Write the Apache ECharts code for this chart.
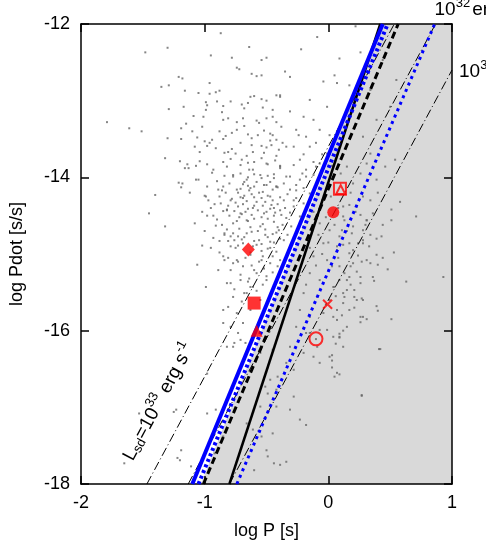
<!DOCTYPE html>
<html>
<head>
<meta charset="utf-8">
<script src="https://cdn.jsdelivr.net/npm/echarts@6/dist/echarts.min.js"></script>
<style>
html, body { margin: 0; padding: 0; background: #fff; }
#chart { width: 486px; height: 545px; }
</style>
</head>
<body>
<div id="chart"></div>
<script>
// log P [s], log Pdot [s/s]
const pulsarDots = [
  [-0.87,-12.12],[-0.64,-12.30],[-1.30,-12.31],[-1.48,-12.37],[-0.95,-12.41],[-0.78,-12.44],[-0.54,-12.47],[-0.50,-12.44],
  [-0.74,-12.57],[-0.72,-12.59],[-0.62,-12.65],[-0.58,-12.68],[-0.54,-12.67],[-1.21,-12.69],[-1.18,-12.71],[-0.96,-12.77],
  [-1.29,-12.80],[-1.35,-12.82],[-1.16,-12.87],[-1.05,-12.90],[-0.96,-12.91],[-0.91,-12.89],[-0.88,-12.87],[-0.42,-12.93],
  [-0.63,-12.95],[-0.60,-12.94],[-0.54,-12.98],[-0.50,-13.00],[-0.99,-13.02],[-0.98,-13.06],[-0.90,-13.01],[-0.85,-13.07],
  [-0.79,-13.01],[-0.65,-13.03],[-1.29,-13.11],[-1.17,-13.08],[-0.99,-13.12],[-0.68,-13.10],[-0.53,-13.09],[-0.39,-12.95],
  [-1.09,-13.20],[-1.01,-13.21],[-0.85,-13.25],[-0.81,-13.23],[-0.74,-13.28],[-0.69,-13.23],[-0.58,-13.26],[-0.56,-13.29],
  [-0.50,-13.23],[-0.42,-13.28],[-1.79,-13.28],[-1.61,-13.36],[-1.51,-13.40],[-1.19,-13.36],[-1.15,-13.30],[-1.10,-13.40],
  [-1.02,-13.34],[-0.83,-13.46],[-0.78,-13.42],[-0.68,-13.33],[-0.65,-13.44],[-0.62,-13.49],[-0.52,-13.39],[-0.47,-13.43],
  [-0.45,-13.45],[-1.30,-13.49],[-1.19,-13.50],[-1.06,-13.48],[-1.00,-13.53],[-0.96,-13.55],[-0.94,-13.51],[-0.85,-13.50],
  [-1.08,-13.60],[-0.98,-13.59],[-0.84,-13.68],[-0.81,-13.67],[-0.78,-13.63],[-0.75,-13.69],[-0.71,-13.55],[-0.61,-13.67],
  [-0.54,-13.59],[-0.50,-13.61],[-0.46,-13.58],[-0.42,-13.72],[-0.40,-13.64],[-1.04,-13.67],[-1.32,-13.75],[-1.20,-13.79],
  [-1.14,-13.83],[-1.16,-13.88],[-1.13,-13.88],[-1.07,-13.85],[-1.04,-13.79],[-0.98,-13.83],[-0.93,-13.90],[-0.85,-13.80],
  [-0.79,-13.76],[-0.70,-13.77],[-0.65,-13.81],[-0.60,-13.80],[-0.54,-13.75],[-0.49,-13.83],[-0.43,-13.78],[-0.39,-13.85],
  [-0.64,-13.90],[-0.94,-13.94],[-0.77,-13.97],[-0.71,-13.95],[-0.65,-14.00],[-0.60,-13.96],[-0.54,-14.01],[-0.49,-13.98],
  [-0.44,-13.96],[-1.07,-14.03],[-1.05,-14.03],[-1.21,-14.07],[-1.18,-14.08],[-1.19,-14.13],[-0.68,-14.06],[-0.65,-14.11],
  [-0.71,-14.15],[-0.64,-14.17],[-0.60,-14.12],[-0.50,-14.10],[-0.45,-14.16],[-0.41,-14.13],[-0.89,-14.16],[-0.86,-14.17],
  [-1.00,-14.24],[-0.99,-14.25],[-1.40,-14.23],[-0.73,-14.20],[-0.71,-14.26],[-0.68,-14.24],[-0.60,-14.26],[-0.54,-14.27],
  [-0.49,-14.24],[-0.45,-14.30],[-0.41,-14.35],[-0.92,-14.35],[-0.87,-14.34],[-0.81,-14.37],[-0.82,-14.42],[-0.85,-14.44],
  [-0.73,-14.38],[-0.69,-14.35],[-0.65,-14.41],[-0.60,-14.37],[-0.53,-14.37],[-0.44,-14.40],[-1.45,-14.47],[-0.98,-14.50],
  [-0.93,-14.50],[-0.70,-14.48],[-0.74,-14.57],[-0.65,-14.57],[-0.60,-14.54],[-0.54,-14.52],[-0.49,-14.54],[-0.44,-14.50],
  [-1.32,-14.64],[-0.91,-14.63],[-0.82,-14.68],[-0.84,-14.75],[-0.77,-14.73],[-0.72,-14.67],[-0.68,-14.78],[-0.63,-14.65],
  [-0.57,-14.70],[-0.53,-14.61],[-0.49,-14.78],[-0.45,-14.74],[-0.41,-14.65],[-0.93,-14.79],[-0.81,-14.83],[-0.76,-14.82],
  [-1.02,-14.89],[-0.95,-14.92],[-0.88,-14.98],[-0.73,-14.89],[-0.60,-14.83],[-0.54,-14.87],[-0.49,-14.93],[-0.44,-14.85],
  [-0.39,-14.80],[-0.63,-14.98],[-0.54,-14.96],
  [-0.82,-13.86],[-0.71,-13.84],[-0.61,-13.90],[-0.50,-13.82],[-0.39,-13.88],[-0.28,-13.84],[-0.18,-13.90],[-0.07,-13.82],
  [-0.77,-13.99],[-0.66,-14.03],[-0.55,-13.97],[-0.44,-14.01],[-0.34,-13.99],[-0.23,-14.03],[-0.12,-13.97],[-0.85,-14.12],
  [-0.74,-14.16],[-0.63,-14.14],[-0.53,-14.19],[-0.42,-14.12],[-0.31,-14.16],[-0.20,-14.14],[-0.79,-14.30],[-0.69,-14.27],
  [-0.58,-14.32],[-0.47,-14.25],[-0.36,-14.30],[-0.26,-14.27],[-0.15,-14.21],[-0.82,-14.43],[-0.71,-14.47],[-0.61,-14.40],
  [-0.50,-14.45],[-0.39,-14.43],[-0.28,-14.38],[-0.20,-14.34],[-0.77,-14.60],[-0.66,-14.56],[-0.55,-14.64],[-0.44,-14.58],
  [-0.34,-14.53],[-0.23,-14.51],[-0.84,-14.73],[-0.73,-14.77],[-0.62,-14.71],[-0.51,-14.75],[-0.40,-14.69],[-0.30,-14.64],
  [-0.79,-14.90],[-0.69,-14.86],[-0.58,-14.88],[-0.47,-14.84],[-0.36,-14.82],[-0.85,-15.03],[-0.74,-15.08],[-0.63,-15.01],
  [-0.53,-15.03],[-0.42,-14.97],[-0.79,-15.21],[-0.69,-15.16],[-0.58,-15.25],[-0.47,-15.12],[-0.82,-15.38],[-0.71,-15.34],
  [-0.61,-15.43],[-0.50,-15.29],[-0.77,-15.56],[-0.66,-15.51],[-0.55,-15.60],[-0.85,-15.73],[-0.74,-15.77],[-0.63,-15.73],
  [-0.79,-15.95],[-0.69,-15.90],[-0.82,-16.21],[-0.71,-16.12],
  [0.15,-13.86],[0.26,-13.95],[0.31,-13.82],[0.20,-14.08],[0.28,-14.25],[0.23,-14.38],[0.12,-14.51],[-0.07,-14.60],
  [0.01,-14.69],[0.09,-14.77],[0.20,-14.64],[0.31,-14.56],[-0.04,-14.86],[0.07,-14.95],[0.17,-14.86],[0.28,-14.82],
  [-0.12,-15.03],[-0.01,-15.08],[0.09,-15.16],[0.20,-15.12],[0.31,-15.08],[-0.15,-15.25],[-0.07,-15.34],[0.04,-15.43],
  [0.15,-15.34],[0.26,-15.38],[-0.20,-15.51],[-0.09,-15.56],[0.01,-15.60],[0.12,-15.51],[0.23,-15.60],[-0.23,-15.73],
  [-0.15,-15.82],[-0.04,-15.77],[0.07,-15.86],[0.17,-15.73],[0.28,-15.82],[-0.26,-15.95],[-0.18,-16.03],[-0.07,-15.99],
  [0.04,-16.08],[0.15,-15.95],[-0.31,-16.21],[-0.20,-16.29],[-0.09,-16.21],[0.01,-16.34],[0.12,-16.21],
  [0.71,-14.51],[0.51,-14.42],[0.58,-14.32],[0.44,-14.62],[0.43,-14.77],[0.51,-14.56],[0.53,-14.98],[0.39,-15.01],
  [0.44,-15.05],[0.40,-15.14],[0.48,-15.20],[0.36,-15.30],[0.37,-15.35],[0.63,-15.36],[0.93,-15.30],[0.28,-15.60],
  [0.39,-15.68],[0.40,-15.74],[0.21,-15.70],[0.51,-15.85],[0.31,-15.85],[0.26,-15.82],[0.26,-15.89],[0.11,-15.80],
  [0.12,-16.00],[0.09,-16.04],[0.09,-16.09],[0.06,-16.17],[0.41,-16.24],[0.03,-16.32],[0.03,-16.39],[0.03,-16.48],
  [0.09,-16.57],[0.05,-16.60],[0.27,-16.85],
  [0.12,-14.38],[0.17,-14.36],[0.26,-14.49],[0.31,-14.56],[0.36,-14.47],[0.28,-14.69],[0.34,-14.75],[0.24,-14.86],
  [0.17,-14.99],[0.27,-15.10],[0.34,-15.12],[0.23,-15.23],[0.17,-15.30],[0.26,-15.30],[0.15,-15.47],[0.21,-15.47],
  [0.12,-15.64],[0.07,-15.73],[0.04,-15.82],[0.05,-15.43],[0.09,-15.34],[0.03,-15.16],[0.07,-14.90],[0.11,-14.69],
  [0.13,-14.56],[0.19,-14.73],[0.28,-14.86],[0.33,-14.90],[0.39,-14.80],[0.18,-15.16],[0.21,-15.56],[0.27,-15.58],
  [0.13,-15.56],
  [-1.06,-15.14],[-0.99,-15.43],[-0.84,-15.08],[-0.89,-15.21],[-0.73,-15.10],[-0.71,-15.27],[-0.65,-15.36],[-0.60,-15.21],
  [-0.54,-15.08],[-0.50,-15.34],[-0.45,-15.03],[-0.41,-15.16],[-0.79,-15.38],[-0.68,-15.51],[-0.63,-15.43],[-0.85,-15.90],
  [-0.81,-15.69],[-0.73,-16.03],[-0.76,-16.16],[-0.98,-16.56],[-0.98,-17.08],[-0.91,-17.03],[-0.92,-17.60],[-0.85,-17.38],
  [-1.19,-17.56],[-1.11,-17.77],[-1.25,-17.06],[-1.22,-17.66],[-1.53,-17.08],[-1.65,-17.73],[-0.49,-16.82],[-0.41,-16.60],
  [-0.42,-16.99],[-0.45,-17.34],[-0.40,-16.73],[-0.54,-17.38],[-0.49,-17.64],[-0.44,-17.73],[-0.60,-17.82],
  [-0.77,-16.21],[-0.67,-16.16],[-0.55,-16.29],[-0.45,-16.25],[-0.34,-16.42],[-0.28,-16.51],[-0.12,-16.34],[-0.07,-16.42],
  [0.07,-16.55],[0.27,-16.84],[0.42,-16.24],[-0.47,-16.64],[-0.42,-16.77],[-0.28,-16.86],[-0.23,-17.16],[-0.18,-17.23],
  [-0.31,-17.03],[-0.55,-16.99],[-0.66,-17.21],[-0.51,-16.73],[-0.61,-17.29],[-0.50,-17.56],[-0.34,-17.71],[-0.39,-17.75],
  [-1.20,-17.69],[-1.23,-17.03],[-0.77,-16.90],[-0.15,-16.03],[-0.01,-15.99],[0.09,-16.08],[-0.10,-16.11],
  [-0.09,-12.17],[-0.22,-12.33],[0.26,-12.37],[0.22,-12.03],[0.09,-12.45],[0.05,-12.67],[0.17,-12.80],[-0.35,-12.62],
  [-0.31,-12.69],[-0.04,-12.75],[0.07,-12.77],[0.20,-12.95],[-0.39,-12.93],[-0.15,-12.99],[-0.01,-13.08],[-0.45,-13.21],
  [-0.31,-13.14],[-0.20,-13.21],[-0.12,-13.25],[-0.38,-13.34],[-0.26,-13.38],[-0.07,-13.38],[0.01,-13.45],[-0.42,-13.51],
  [-0.18,-13.47],[-0.34,-13.60],[-0.15,-13.60],[-0.01,-13.69],[-0.23,-13.77],[-0.10,-13.86],[-0.39,-13.86],[-0.31,-13.99],
  [-0.18,-13.99],[-0.42,-14.12],[-0.26,-14.17],
  [0.34,-12.86],[0.39,-13.25],[0.44,-12.47],[0.50,-13.08],[0.55,-12.73],[0.34,-13.69],[0.46,-13.86],[0.39,-14.03],
  [0.28,-13.47],[0.54,-13.77],
  [-0.90,-14.55],[-0.86,-14.62],[-0.80,-14.50],[-0.76,-14.44],[-0.72,-14.52],[-0.67,-14.45],[-0.62,-14.49],[-0.57,-14.43],
  [-0.52,-14.47],[-0.47,-14.41],[-0.43,-14.46],[-0.38,-14.49],[-0.35,-14.40],[-0.31,-14.46],[-0.88,-14.25],[-0.83,-14.20],
  [-0.78,-14.28],[-0.75,-14.33],[-0.66,-14.31],[-0.62,-14.22],[-0.56,-14.20],[-0.51,-14.32],[-0.46,-14.36],[-0.39,-14.26],
  [-0.33,-14.22],[-0.28,-14.30],[-0.90,-14.05],[-0.84,-13.98],[-0.80,-14.08],[-0.69,-14.09],[-0.58,-14.06],[-0.52,-14.10],
  [-0.47,-14.06],[-0.36,-14.08],[-0.26,-14.10],[-0.21,-13.95],[-0.88,-14.83],[-0.79,-14.77],[-0.75,-14.92],[-0.70,-14.81],
  [-0.66,-14.73],[-0.61,-14.90],[-0.56,-14.82],[-0.51,-14.68],[-0.47,-14.92],[-0.42,-14.72],[-0.37,-14.62],[-0.33,-14.75],
  [-0.81,-15.05],[-0.77,-15.12],[-0.67,-15.05],[-0.62,-15.15],[-0.56,-15.10],[-0.52,-15.19],[-0.45,-15.24],[-0.39,-15.08],
  [-0.76,-15.46],[-0.70,-15.62],[-0.64,-15.32],[-0.58,-15.48],[-0.53,-15.40],[-0.97,-14.30],[-1.02,-14.45],[-1.08,-14.60],
  [-1.00,-14.70],[-0.95,-14.40],[-1.12,-14.20],[-0.98,-14.12],[-0.88,-13.40],[-0.74,-13.38],[-0.62,-13.58],[-0.57,-13.45],
  [-0.47,-13.52],[-0.66,-13.72],[-0.52,-13.68],[-0.91,-13.62],[-0.86,-13.15],[-0.70,-13.05],[-0.45,-13.12],[-0.37,-13.55],
  [-0.05,-14.30],[0.02,-14.25],[0.08,-14.40],[-0.12,-14.45],[-0.02,-14.52],[0.05,-14.62],[0.15,-14.70],[-0.08,-14.75],
  [0.00,-14.85],[0.12,-14.88],[0.20,-14.95],[-0.15,-14.92],[-0.05,-15.00],[0.08,-15.05],[-0.10,-15.15],[0.00,-15.22],
  [0.13,-15.25],[-0.18,-15.40],[0.06,-15.55],[-0.02,-15.66],[0.18,-15.40],[0.24,-15.02],[0.30,-14.62],[0.22,-14.45],
  [0.34,-14.30],[0.40,-14.20],[0.10,-13.95],[0.18,-14.20],[-0.28,-13.60],[-0.20,-13.70],[-0.10,-13.55],[-0.05,-13.70],
  [-0.24,-13.45],[-0.12,-13.80],[0.03,-13.85]
];

// red symbols for the individual sources
const filledDiamond = [[-0.647, -14.94]];
const filledSquare = [[-0.60, -15.64]];
const filledTriangle = [[-0.58, -16.00]];
const filledCircle = [[0.04, -14.455]];
const openSquare = [[0.094, -14.15]];
const openTriangle = [[0.10, -14.16]];
const crossMark = [[-0.006, -15.655]];
const openCircle = [[-0.10, -16.107]];

// model lines, end points in data units
const blueSolidLine = [[-1.10, -18], [0.44, -12]];
const blueDottedLine = [[-1.05, -18], [0.48, -12]];
const blackDashedLine = [[-1.01, -18], [0.565, -12]];
const blackSolidLine = [[-0.80, -18], [0.42, -12]];
const blueDottedLine2 = [[-0.74, -18], [0.86, -12]];
// constant spin-down luminosity lines (1e33, 1e32, 1e31 erg/s)
const lsd33 = [[-1.467, -18], [0.533, -12]];
const lsd32 = [[-1.133, -18], [0.867, -12]];
const lsd31 = [[-0.80, -18], [1.0, -12.6]];
const shadeRegion = [[-1.03, -18], [0.44, -12], [1, -12], [1, -18]];

const FONT = '"Liberation Sans", Arial, sans-serif';

const chart = echarts.init(document.getElementById('chart'));

function lineSeries(data, color, width, type) {
  return {
    type: 'line',
    data: data,
    showSymbol: false,
    silent: true,
    lineStyle: { color: color, width: width, type: type, cap: 'butt' }
  };
}

function markSeries(data, symbol, size, filled) {
  return {
    type: 'scatter',
    data: data,
    symbol: symbol,
    symbolSize: size,
    z: 5,
    itemStyle: filled
      ? { color: '#ff0000' }
      : { color: 'rgba(0,0,0,0)', borderColor: '#ff0000', borderWidth: 2 }
  };
}

const axisCommon = {
  type: 'value',
  axisLine: { show: true, onZero: false, lineStyle: { color: '#000', width: 1.5 } },
  axisTick: { show: true, inside: true, length: 8, lineStyle: { color: '#000', width: 1.5 } },
  splitLine: { show: false }
};

chart.setOption({
  animation: false,
  textStyle: { fontFamily: FONT },
  grid: { left: 81, right: 34, top: 24, bottom: 61 },
  xAxis: [
    Object.assign({}, axisCommon, {
      min: -2, max: 1, interval: 1, position: 'bottom',
      name: 'log P [s]', nameLocation: 'middle', nameGap: 38,
      nameTextStyle: { fontSize: 18, color: '#000', fontFamily: FONT },
      axisLabel: { fontSize: 18, color: '#000', margin: 10, fontFamily: FONT }
    }),
    Object.assign({}, axisCommon, {
      min: -2, max: 1, interval: 1, position: 'top', axisLabel: { show: false }
    })
  ],
  yAxis: [
    Object.assign({}, axisCommon, {
      min: -18, max: -12, interval: 2, position: 'left',
      name: 'log Pdot [s/s]', nameLocation: 'middle', nameGap: 55,
      nameTextStyle: { fontSize: 18, color: '#000', fontFamily: FONT },
      axisLabel: { fontSize: 18, color: '#000', margin: 11, fontFamily: FONT }
    }),
    Object.assign({}, axisCommon, {
      min: -18, max: -12, interval: 2, position: 'right', axisLabel: { show: false }
    })
  ],
  series: [
    {
      type: 'custom',
      silent: true,
      z: 0,
      data: [[0, -15]],
      renderItem: function (params, api) {
        return {
          type: 'polygon',
          shape: { points: shadeRegion.map(function (p) { return api.coord(p); }) },
          style: { fill: '#d9d9d9' }
        };
      }
    },
    {
      type: 'scatter',
      data: pulsarDots,
      symbol: 'rect',
      symbolSize: 2,
      silent: true,
      itemStyle: { color: '#666666' }
    },
    lineSeries(lsd33, '#000', 1, [9, 3, 1, 3]),
    lineSeries(lsd32, '#000', 1, [9, 3, 1, 3]),
    lineSeries(lsd31, '#000', 1, [9, 3, 1, 3]),
    lineSeries(blackSolidLine, '#000', 2.5, 'solid'),
    lineSeries(blueDottedLine2, '#0000ff', 3, [3, 4]),
    lineSeries(blackDashedLine, '#000', 3, [7, 4]),
    lineSeries(blueSolidLine, '#0000ff', 4, 'solid'),
    lineSeries(blueDottedLine, '#0000ff', 4, [3, 3]),
    markSeries(filledDiamond, 'diamond', [13, 14], true),
    markSeries(filledSquare, 'rect', 13, true),
    markSeries(filledTriangle, 'triangle', 12, true),
    markSeries(filledCircle, 'circle', 12, true),
    markSeries(openSquare, 'rect', 12, false),
    markSeries(openTriangle, 'triangle', 9, false),
    markSeries(crossMark, 'path://M0,0L10,10M10,0L0,10', 9, false),
    markSeries(openCircle, 'circle', 13, false)
  ]
});

// text labels placed along the luminosity lines
const rich = {
  m: { fontSize: 19, lineHeight: 19, fontFamily: FONT, fill: '#000' },
  g: { fontSize: 19, lineHeight: 19, padding: [0, 0, 0, 2], fontFamily: FONT, fill: '#000' },
  sup: { fontSize: 13, lineHeight: 13, padding: [0, 0, 14, 0], fontFamily: FONT, fill: '#000' },
  sub: { fontSize: 13, lineHeight: 13, padding: [8, 0, 0, 0], fontFamily: FONT, fill: '#000' }
};
const p0 = chart.convertToPixel({ gridIndex: 0 }, lsd33[0]);
const p1 = chart.convertToPixel({ gridIndex: 0 }, lsd33[1]);
const angle = Math.atan2(p0[1] - p1[1], p1[0] - p0[0]);
const lsdPos = chart.convertToPixel({ gridIndex: 0 }, [-1.37, -16.93]);
const top32 = chart.convertToPixel({ gridIndex: 0 }, lsd32[1]);
const end31 = chart.convertToPixel({ gridIndex: 0 }, lsd31[1]);

chart.setOption({
  graphic: [
    {
      type: 'text', x: lsdPos[0], y: lsdPos[1], rotation: angle, z: 10,
      style: {
        text: '{m|L}{sub|sd}{m|=10}{sup|33}{m| erg s}{sup|-1}',
        rich: rich, align: 'center', verticalAlign: 'middle'
      }
    },
    {
      type: 'text', x: top32[0] - 1, y: top32[1] - 14, z: 10,
      style: {
        text: '{m|10}{sup|32}{g|erg s}{sup|-1}',
        rich: rich, align: 'left', verticalAlign: 'middle'
      }
    },
    {
      type: 'text', x: end31[0] + 7, y: end31[1] + 2, z: 10,
      style: {
        text: '{m|10}{sup|31}{g|erg s}{sup|-1}',
        rich: rich, align: 'left', verticalAlign: 'middle'
      }
    }
  ]
});
</script>
</body>
</html>
